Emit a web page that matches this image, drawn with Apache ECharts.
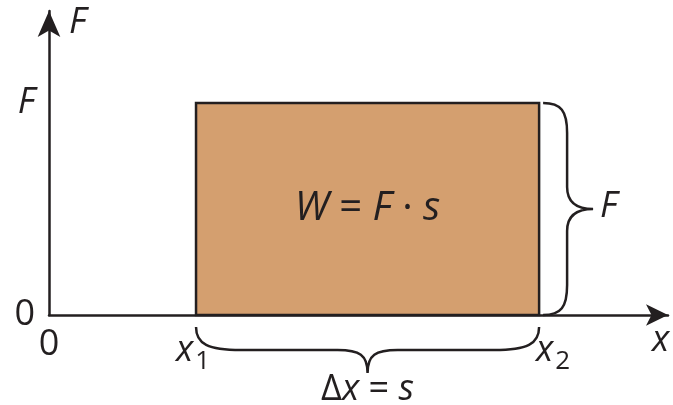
<!DOCTYPE html>
<html>
<head>
<meta charset="utf-8">
<script src="https://cdn.jsdelivr.net/npm/echarts@6/dist/echarts.min.js"></script>
<style>
html, body { margin: 0; padding: 0; background: #fff; }
#chart { width: 673px; height: 405px; }
</style>
</head>
<body>
<div id="chart"></div>
<script>
// ticks on the axes
var xTicks = [0, 3, 10];          // 0, x1, x2
var xTickNames = ['0', 'x1', 'x2'];
var yTicks = [0, 1];              // 0, F
var yTickNames = ['0', 'F'];
// the work rectangle: x1, x2, F
var workArea = [[3, 10, 1]];
var forceText = 'F';

var ink = '#231f20';
var font = '"Open Sans", "DejaVu Sans", sans-serif';
var rich = {
	i: { fontStyle: 'italic', fontSize: 36, fontFamily: font, color: ink },
	n: { fontSize: 36, fontFamily: font, color: ink },
	sub: { fontSize: 26, fontFamily: font, color: ink, padding: [22, 0, 0, 2] },
	gap2: { width: 28 },
	gap1: { width: 6 }
};

var dom = document.getElementById('chart');
var myChart = echarts.init(dom);
var option = {
	animation: false,
	grid: { left: 49, top: 11, width: 619, height: 304 },
	xAxis: {
		type: 'value',
		min: 0,
		max: 12.63,
		name: 'x',
		nameLocation: 'end',
		nameGap: -16,
		nameTextStyle: {
			fontFamily: font, fontSize: 36, fontStyle: 'italic', color: ink,
			align: 'left', verticalAlign: 'top', padding: [8, 0, 0, 0]
		},
		axisLine: {
			onZero: false,
			symbol: ['none', 'arrow'],
			symbolSize: [16, 22],
			lineStyle: { color: ink, width: 2.5 }
		},
		axisTick: { show: false },
		splitLine: { show: false },
		axisLabel: {
			customValues: xTicks,
			margin: 12,
			formatter: function (v) {
				var i = xTicks.indexOf(v);
				if (i < 0) return '';
				var t = xTickNames[i];
				if (t == '0') return '{n|0}';
				if (t == 'x1') return '{i|x}{sub|1}{gap1|}';
				return '{gap2|}{i|x}{sub|2}';
			},
			rich: rich
		}
	},
	yAxis: {
		type: 'value',
		min: 0,
		max: 1.434,
		name: 'F',
		nameLocation: 'end',
		nameGap: -30,
		nameTextStyle: {
			fontFamily: font, fontSize: 36, fontStyle: 'italic', color: ink,
			align: 'left', verticalAlign: 'bottom', padding: [0, 0, 0, 20]
		},
		axisLine: {
			onZero: false,
			symbol: ['none', 'arrow'],
			symbolSize: [17, 26],
			lineStyle: { color: ink, width: 2.5 }
		},
		axisTick: { show: false },
		splitLine: { show: false },
		axisLabel: {
			customValues: yTicks,
			margin: 14,
			formatter: function (v) {
				var i = yTicks.indexOf(v);
				if (i < 0) return '';
				return yTickNames[i] == 'F' ? '{i|F}' : '{n|0}';
			},
			rich: rich
		}
	},
	series: [{
		type: 'custom',
		clip: false,
		data: workArea,
		encode: { x: [0, 1], y: 2 },
		renderItem: function (params, api) {
			var a = api.coord([api.value(0), api.value(2)]);
			var b = api.coord([api.value(1), 0]);
			return {
				type: 'rect',
				shape: { x: a[0], y: a[1], width: b[0] - a[0], height: b[1] - a[1] },
				style: { fill: '#d49f6f', stroke: ink, lineWidth: 2.5 },
				textContent: {
					style: {
						text: '{i|W}{n| = }{i|F}{n| · }{i|s}',
						rich: {
							i: { fontStyle: 'italic', fontSize: 40, fontFamily: font, fill: ink },
							n: { fontSize: 40, fontFamily: font, fill: ink }
						}
					}
				},
				textConfig: { position: 'inside' }
			};
		}
	}, {
		// braces for the path and the force
		type: 'custom',
		clip: false,
		data: workArea,
		encode: { x: [0, 1], y: 2 },
		renderItem: function (params, api) {
			var top = api.coord([api.value(0), api.value(2)]);
			var bot = api.coord([api.value(1), 0]);
			var x1 = top[0], x2 = bot[0], yT = top[1], y0 = bot[1];
			var xm = (x1 + x2) / 2, ym = (yT + y0) / 2;
			var h = y0 + 35;
			var down = 'M' + x1 + ',' + (y0 + 12)
				+ ' C' + x1 + ',' + (h - 6) + ' ' + (x1 + 12) + ',' + h + ' ' + (x1 + 45) + ',' + h
				+ ' L' + (xm - 30) + ',' + h
				+ ' C' + (xm - 8) + ',' + h + ' ' + xm + ',' + (h + 5) + ' ' + xm + ',' + (y0 + 58)
				+ ' C' + xm + ',' + (h + 5) + ' ' + (xm + 8) + ',' + h + ' ' + (xm + 30) + ',' + h
				+ ' L' + (x2 - 45) + ',' + h
				+ ' C' + (x2 - 12) + ',' + h + ' ' + x2 + ',' + (h - 6) + ' ' + x2 + ',' + (y0 + 12);
			var v = x2 + 28;
			var right = 'M' + (x2 + 4) + ',' + yT
				+ ' C' + (x2 + 22) + ',' + yT + ' ' + v + ',' + (yT + 8) + ' ' + v + ',' + (yT + 30)
				+ ' L' + v + ',' + (ym - 22)
				+ ' C' + v + ',' + (ym - 6) + ' ' + (x2 + 38) + ',' + ym + ' ' + (x2 + 54) + ',' + ym
				+ ' C' + (x2 + 38) + ',' + ym + ' ' + v + ',' + (ym + 6) + ' ' + v + ',' + (ym + 22)
				+ ' L' + v + ',' + (y0 - 30)
				+ ' C' + v + ',' + (y0 - 8) + ' ' + (x2 + 22) + ',' + y0 + ' ' + (x2 + 4) + ',' + y0;
			return {
				type: 'group',
				children: [{
					type: 'path',
					shape: { pathData: down },
					style: { fill: 'none', stroke: ink, lineWidth: 2.5 }
				}, {
					type: 'path',
					shape: { pathData: right },
					style: { fill: 'none', stroke: ink, lineWidth: 2.5 }
				}, {
					type: 'text',
					x: xm,
					y: y0 + 57,
					style: {
						text: '{n|Δ}{i|x}{n| = }{i|s}',
						align: 'center',
						verticalAlign: 'top',
						rich: {
							i: { fontStyle: 'italic', fontSize: 36, fontFamily: font, fill: ink },
							n: { fontSize: 36, fontFamily: font, fill: ink }
						}
					}
				}, {
					type: 'text',
					x: x2 + 61,
					y: ym - 2,
					style: {
						text: forceText,
						align: 'left',
						verticalAlign: 'middle',
						fontStyle: 'italic',
						fontSize: 36,
						fontFamily: font,
						fill: ink
					}
				}]
			};
		}
	}]
};
myChart.setOption(option);
</script>
</body>
</html>
